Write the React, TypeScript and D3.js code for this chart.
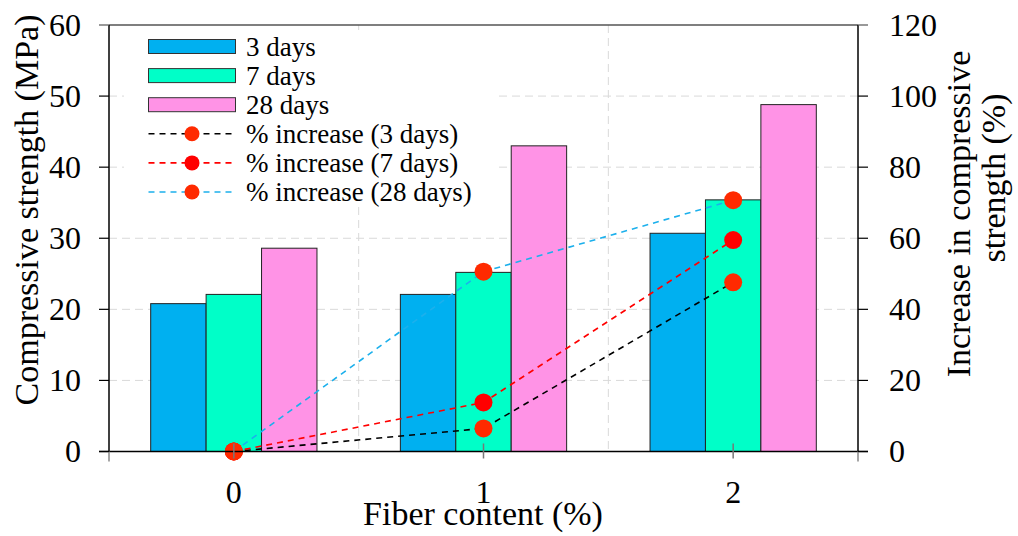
import React from "react";
import * as d3 from "d3";

// Fiber content categories (%)
const categories = ["0", "1", "2"];

// Compressive strength (MPa) at each curing age
const strength3Days = [20.8, 22.1, 30.7];
const strength7Days = [22.1, 25.2, 35.4];
const strength28Days = [28.6, 43.0, 48.8];

// Increase in compressive strength (%) relative to plain mix
const increase3Days = [0, 6.5, 47.6];
const increase7Days = [0, 13.8, 59.5];
const increase28Days = [0, 50.6, 70.7];

// Axis ticks
const leftTicks = [0, 10, 20, 30, 40, 50, 60];
const rightTicks = [0, 20, 40, 60, 80, 100, 120];

const barSeries = [
  { label: "3 days", values: strength3Days, fill: "#00B0F0" },
  { label: "7 days", values: strength7Days, fill: "#00FFC8" },
  { label: "28 days", values: strength28Days, fill: "#FF93E6" },
];

const lineSeries = [
  { label: "% increase (3 days)", values: increase3Days, stroke: "#000000", dot: "#FF2A00" },
  { label: "% increase (7 days)", values: increase7Days, stroke: "#FF0000", dot: "#FF0000" },
  { label: "% increase (28 days)", values: increase28Days, stroke: "#1CB0EC", dot: "#FF2A00" },
];

const W = 1018;
const H = 536;
const left = 109;
const right = 858;
const top = 25;
const bottom = 451.5;
const FONT = '"Liberation Serif", "Times New Roman", Times, serif';

export default function App() {
  const x = d3.scaleLinear().domain([-0.5, 2.5]).range([left, right]);
  const yL = d3.scaleLinear().domain([0, 60]).range([bottom, top]);
  const yR = d3.scaleLinear().domain([0, 120]).range([bottom, top]);
  const barW = 0.222;
  const line = d3
    .line<number>()
    .x((_, i) => x(i))
    .y((v) => yR(v));

  const legendRows = [...barSeries.map((s) => ({ kind: "bar", s })), ...lineSeries.map((s) => ({ kind: "line", s }))];
  const legendY0 = 46.5;
  const legendStep = 29.1;
  const ts = { fontFamily: FONT };

  return (
    <svg
      width={W}
      height={H}
      style={{ position: "absolute", left: 0, top: 0, background: "#fff", fontFamily: FONT }}
    >
      {/* grid */}
      <g stroke="#d9d9d9" strokeWidth={1} strokeDasharray="8,5" fill="none">
        {leftTicks.slice(1, -1).map((t) => (
          <line key={"h" + t} x1={left} x2={right} y1={yL(t)} y2={yL(t)} />
        ))}
        {[0.5, 1.5].map((t) => (
          <line key={"v" + t} x1={x(t)} x2={x(t)} y1={top} y2={bottom} />
        ))}
      </g>

      {/* legend background */}
      <rect x={124} y={30} width={374} height={176} fill="#fff" />

      {/* bars */}
      {barSeries.map((s, k) =>
        s.values.map((v, i) => {
          const cx = i + (k - 1) * barW;
          const x0 = x(cx - barW / 2);
          const x1 = x(cx + barW / 2);
          return (
            <rect
              key={s.label + i}
              x={x0}
              y={yL(v)}
              width={x1 - x0}
              height={bottom - yL(v)}
              fill={s.fill}
              stroke="#222"
              strokeWidth={1}
            />
          );
        })
      )}

      {/* percentage increase lines */}
      {lineSeries.map((s) => (
        <path
          key={s.label}
          d={line(s.values) || ""}
          fill="none"
          stroke={s.stroke}
          strokeWidth={1.6}
          strokeDasharray="6,5"
        />
      ))}
      {lineSeries.map((s) =>
        s.values.map((v, i) => (
          <circle key={s.label + "d" + i} cx={x(i)} cy={yR(v)} r={9} fill={s.dot} />
        ))
      )}

      {/* frame and axes */}
      <line x1={left} x2={right} y1={top} y2={top} stroke="#555" strokeWidth={1.5} />
      <line x1={left - 10} x2={right + 10} y1={bottom} y2={bottom} stroke="#000" strokeWidth={1.5} />
      <line x1={left} x2={left} y1={top} y2={bottom} stroke="#000" strokeWidth={1.5} />
      <line x1={right} x2={right} y1={top} y2={bottom} stroke="#000" strokeWidth={1.5} />
      <line x1={left} x2={left} y1={bottom} y2={bottom + 10} stroke="#888" strokeWidth={1.5} />
      <line x1={right} x2={right} y1={bottom} y2={bottom + 10} stroke="#888" strokeWidth={1.5} />

      {/* left axis */}
      {leftTicks.map((t) => (
        <g key={"lt" + t}>
          <line x1={left - 10} x2={left} y1={yL(t)} y2={yL(t)} stroke={t === 60 ? "#555" : "#000"} strokeWidth={1.2} />
          <text x={81} y={yL(t)} dy="0.34em" textAnchor="end" fontSize={32} fill="#000" style={ts}>
            {t}
          </text>
        </g>
      ))}

      {/* right axis */}
      {rightTicks.map((t) => (
        <g key={"rt" + t}>
          <line x1={right} x2={right + 10} y1={yR(t)} y2={yR(t)} stroke={t === 120 ? "#555" : "#000"} strokeWidth={1.2} />
          <text x={889} y={yR(t)} dy="0.34em" textAnchor="start" fontSize={32} fill="#000" style={ts}>
            {t}
          </text>
        </g>
      ))}

      {/* x axis */}
      {categories.map((c, i) => (
        <g key={"xc" + c}>
          <line x1={x(i)} x2={x(i)} y1={bottom - 8} y2={bottom + 7} stroke="#777" strokeWidth={1.5} />
          <text x={x(i)} y={503} textAnchor="middle" fontSize={32} fill="#000" style={ts}>
            {c}
          </text>
        </g>
      ))}

      {/* axis titles */}
      <text x={483} y={525} textAnchor="middle" fontSize={34} fill="#000" style={ts}>
        Fiber content (%)
      </text>
      <text transform="translate(38,210) rotate(-90)" textAnchor="middle" fontSize={34} fill="#000" style={ts}>
        Compressive strength (MPa)
      </text>
      <text transform="translate(970,214) rotate(-90)" textAnchor="middle" fontSize={34} fill="#000" style={ts}>
        Increase in compressive
      </text>
      <text transform="translate(1005,178) rotate(-90)" textAnchor="middle" fontSize={34} fill="#000" style={ts}>
        strength (%)
      </text>

      {/* legend */}
      {legendRows.map((row, j) => {
        const cy = legendY0 + j * legendStep;
        return (
          <g key={"lg" + j}>
            {row.kind === "bar" ? (
              <rect x={148.5} y={cy - 7} width={87} height={14} fill={(row.s as any).fill} stroke="#333" strokeWidth={1} />
            ) : (
              <>
                <line
                  x1={148.5}
                  x2={235.5}
                  y1={cy}
                  y2={cy}
                  stroke={(row.s as any).stroke}
                  strokeWidth={1.6}
                  strokeDasharray="6,5"
                />
                <circle cx={192} cy={cy} r={7.5} fill={(row.s as any).dot} />
              </>
            )}
            <text x={246} y={cy} dy="0.34em" fontSize={27} fill="#000" style={ts}>
              {row.s.label}
            </text>
          </g>
        );
      })}
    </svg>
  );
}
